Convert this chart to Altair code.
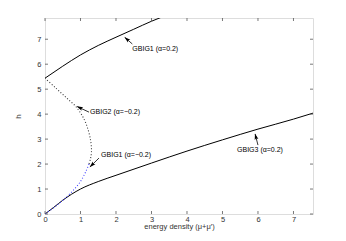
import altair as alt
import pandas as pd
import numpy as np

W, H = 268, 196
XMAX, YMAX = 7.55, 7.85

# GBIG1 (alpha=0.2) upper branch
top_x = [0, 0.5, 1.0, 1.5, 2.0, 2.5, 3.0, 3.5]
top_y = [5.44, 5.92, 6.37, 6.75, 7.08, 7.40, 7.72, 8.0]
# GBIG3 (alpha=0.2) lower branch
bot_x = [0, 0.25, 0.5, 1.0, 1.5, 2.0, 3.0, 4.0, 5.0, 6.0, 7.0, 7.55]
bot_y = [0, 0.27, 0.55, 1.0, 1.3, 1.55, 2.04, 2.52, 2.97, 3.4, 3.8, 4.04]
# GBIG2 (alpha=-0.2) dotted black
g2_x = [0, 0.3, 0.6, 0.9, 1.1, 1.22, 1.29, 1.31, 1.28, 1.24]
g2_y = [5.44, 5.05, 4.66, 4.25, 3.8, 3.35, 2.9, 2.5, 2.2, 2.0]
# GBIG1 (alpha=-0.2) dotted blue
g1n_x = [1.24, 1.15, 1.02, 0.85, 0.62, 0.35, 0]
g1n_y = [2.0, 1.7, 1.35, 1.03, 0.7, 0.37, 0]

ticks = [0, 1, 2, 3, 4, 5, 6, 7]

# annotations
ann_text = ["GBIG1 (α=0.2)", "GBIG2 (α=−0.2)", "GBIG1 (α=−0.2)", "GBIG3 (α=0.2)"]
ann_tx = [2.46, 1.27, 1.58, 5.41]
ann_ty = [6.61, 4.07, 2.36, 2.56]
arr_x0 = [2.46, 1.24, 1.52, 6.0]
arr_y0 = [6.81, 4.08, 2.24, 2.76]
arr_x1 = [2.25, 0.91, 1.27, 5.92]
arr_y1 = [7.07, 4.30, 1.89, 3.20]

sx, sy = W / XMAX, H / YMAX
dxp = (np.array(arr_x1) - np.array(arr_x0)) * sx
dyp = -(np.array(arr_y1) - np.array(arr_y0)) * sy
ang = (np.degrees(np.arctan2(dxp, -dyp)) + 360) % 360
L = np.hypot(dxp, dyp)
hx = np.array(arr_x1) - dxp / L * 2.5 / sx
hy = np.array(arr_y1) + dyp / L * 2.5 / sy

xs = alt.Scale(domain=[0, XMAX], nice=False, zero=False)
ys = alt.Scale(domain=[0, YMAX], nice=False, zero=False)

font = "Liberation Sans"

xa = alt.Axis(values=ticks, ticks=False, domain=False, grid=False,
              labelFont=font, labelFontSize=7.5, labelColor="#333",
              labelPadding=1, labelOverlap=False, labelFlush=False,
              title="energy density (μ+μ′)",
              titleFont=font, titleFontSize=7.5, titleFontWeight="normal",
              titleColor="#333", titlePadding=0)
ya = alt.Axis(values=ticks, ticks=False, domain=False, grid=False,
              labelFont=font, labelFontSize=7.5, labelColor="#333",
              labelPadding=4, labelOverlap=False, labelFlush=False,
              title="h",
              titleFont=font, titleFontSize=8, titleFontWeight="normal",
              titleColor="#333", titlePadding=14)

def X(f):
    return alt.X(f, scale=xs, axis=xa)

def Y(f):
    return alt.Y(f, scale=ys, axis=ya)

def line_df(xv, yv):
    return pd.DataFrame({"x": xv, "y": yv, "o": list(range(len(xv)))})

def curve(df, color, interp, dash=None, width=1.0):
    kw = dict(color=color, strokeWidth=width, clip=True, interpolate=interp)
    if dash:
        kw["strokeDash"] = dash
    return alt.Chart(df).mark_line(**kw).encode(x=X("x:Q"), y=Y("y:Q"), order="o:Q")

c_top = curve(line_df(top_x, top_y), "black", "monotone")
c_bot = curve(line_df(bot_x, bot_y), "black", "monotone")
c_g2 = curve(line_df(g2_x, g2_y), "#333333", "catmull-rom", dash=[1, 2], width=1.1)
c_g1n = curve(line_df(g1n_x, g1n_y), "#4040ff", "catmull-rom", dash=[1, 2], width=1.1)

tdf = pd.DataFrame({"t": ticks})
tx_bot = alt.Chart(tdf).mark_rule(color="#555", strokeWidth=0.8).encode(
    x=X("t:Q"), y=alt.value(H), y2=alt.value(H - 3))
tx_top = alt.Chart(tdf).mark_rule(color="#555", strokeWidth=0.8).encode(
    x=X("t:Q"), y=alt.value(0), y2=alt.value(3))
ty_l = alt.Chart(tdf).mark_rule(color="#555", strokeWidth=0.8).encode(
    y=Y("t:Q"), x=alt.value(0), x2=alt.value(3))
ty_r = alt.Chart(tdf).mark_rule(color="#555", strokeWidth=0.8).encode(
    y=Y("t:Q"), x=alt.value(W - 3), x2=alt.value(W))

adf = pd.DataFrame({"t": ann_text, "tx": ann_tx, "ty": ann_ty,
                    "x0": arr_x0, "y0": arr_y0, "x1": arr_x1, "y1": arr_y1,
                    "hx": hx, "hy": hy, "ang": ang})
arrows = alt.Chart(adf).mark_rule(color="black", strokeWidth=0.8).encode(
    x=X("x0:Q"), y=Y("y0:Q"), x2="x1:Q", y2="y1:Q")
heads = alt.Chart(adf).mark_point(shape="M-0.6,1L0,-1L0.6,1L0,0.6Z", filled=True, color="black",
                                  size=40, opacity=1).encode(
    x=X("hx:Q"), y=Y("hy:Q"), angle=alt.Angle("ang:Q", scale=None))
labels = alt.Chart(adf).mark_text(align="left", baseline="middle", font=font,
                                  fontSize=7, color="black").encode(
    x=X("tx:Q"), y=Y("ty:Q"), text="t:N")

chart = alt.layer(c_top, c_bot, c_g2, c_g1n, tx_bot, tx_top, ty_l, ty_r,
                  arrows, heads, labels).properties(
    width=W, height=H,
    autosize=alt.AutoSizeParams(type="none"),
    padding={"left": 37, "top": 10, "right": 20, "bottom": 20},
).configure_view(stroke="#555", strokeWidth=1).configure(background="white")

chart.save("out.html", embed_options={"renderer": "svg", "actions": False})
